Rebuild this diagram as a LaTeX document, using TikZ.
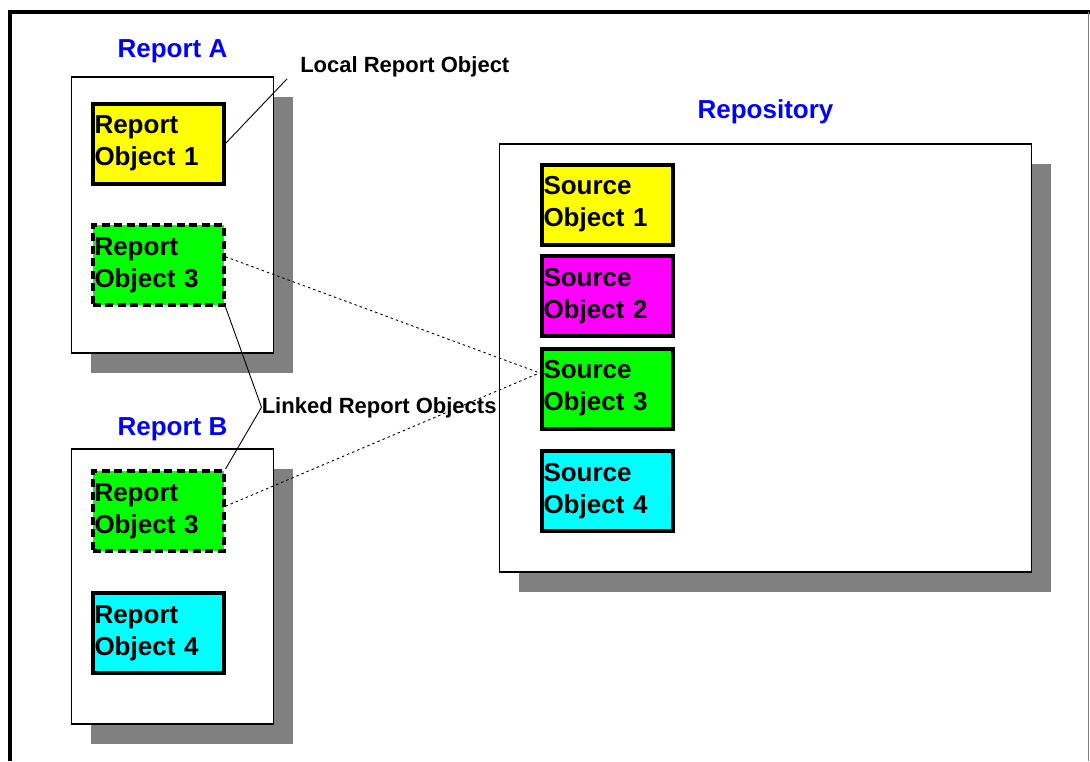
\documentclass[tikz,border=0pt]{standalone}
\usepackage{fontspec}
\setmainfont{Liberation Sans}
\usetikzlibrary{positioning,shadows}

\definecolor{objyellow}{RGB}{255,255,0}
\definecolor{objgreen}{RGB}{0,255,0}
\definecolor{objmagenta}{RGB}{255,0,255}
\definecolor{objcyan}{RGB}{0,255,255}
\definecolor{ttlblue}{RGB}{0,0,255}
\definecolor{shadowgray}{RGB}{128,128,128}

\tikzstyle{doc} = [rectangle, draw=black, fill=white, line width=1.2pt, drop shadow={shadow xshift=19.5pt, shadow yshift=-19.5pt, fill=shadowgray, opacity=1}]
\tikzstyle{obj} = [rectangle, draw=black, line width=4pt, minimum width=131pt, minimum height=80pt, text width=127pt, inner xsep=2pt, align=left, font=\fontsize{26}{32}\selectfont\bfseries]
\tikzstyle{lnk} = [obj, dash pattern=on 8pt off 4.5pt]
\tikzstyle{ttl} = [text=ttlblue, inner sep=0pt, font=\fontsize{26}{30}\selectfont\bfseries]
\tikzstyle{callout} = [font=\fontsize{22}{24}\selectfont\bfseries]

\begin{document}
\begin{tikzpicture}[-, x=1pt, y=-1pt, node distance=121.5pt, semithick]
\useasboundingbox (0,0) rectangle (1090,761);

% frame
\draw[line width=4pt] (10,761) -- (10,12) -- (1090,12);
\draw[shadowgray, line width=1.2pt] (1088.5,12) -- (1088.5,761);

% Report A
\node[doc, minimum width=202pt, minimum height=276pt] (RA) at (172.5,215) {};
\node[ttl, above=13.5pt of RA] (tA) {Report A};
\node[obj, fill=objyellow] (RO1) at (158,143.5) {Report\\Object 1};
\node[lnk, fill=objgreen] (RO3a) [below of=RO1] {Report\\Object 3};

% Report B
\node[doc, minimum width=202pt, minimum height=275pt] (RB) at (172.5,586.5) {};
\node[ttl, above=7.5pt of RB] (tB) {Report B};
\node[lnk, fill=objgreen] (RO3b) at (158,511) {Report\\Object 3};
\node[obj, fill=objcyan] (RO4) [below of=RO3b, node distance=122pt] {Report\\Object 4};

% Repository
\node[doc, minimum width=532pt, minimum height=428pt] (Rep) at (765.5,358) {};
\node[ttl, above=19pt of Rep] (tRep) {Repository};
\node[obj, fill=objyellow] (SO1) at (607,204.5) {Source\\Object 1};
\node[obj, fill=objmagenta] (SO2) [below of=SO1, node distance=91.5pt] {Source\\Object 2};
\node[obj, fill=objgreen] (SO3) [below of=SO2, node distance=92.5pt] {Source\\Object 3};
\node[obj, fill=objcyan] (SO4) [below of=SO3, node distance=102.5pt] {Source\\Object 4};

% callouts
\node[callout, inner xsep=13pt, inner ysep=2pt, anchor=base west] (lLocal) at (287,72) {Local Report Object};
\node[callout, inner xsep=0pt, anchor=base west] (lLinked) at (261.5,413) {Linked Report Objects};

\path[line width=0.9pt]
    (lLocal.south west) edge (RO1.east)
    (RO3a.south east) edge (lLinked.west)
    (lLinked.west) edge (RO3b.north east)
    (RO3a.7) edge[dash pattern=on 2.5pt off 3pt] (SO3.167)
    (RO3b.4) edge[dash pattern=on 2.5pt off 3pt] (SO3.167)
    ;

\end{tikzpicture}
\end{document}
